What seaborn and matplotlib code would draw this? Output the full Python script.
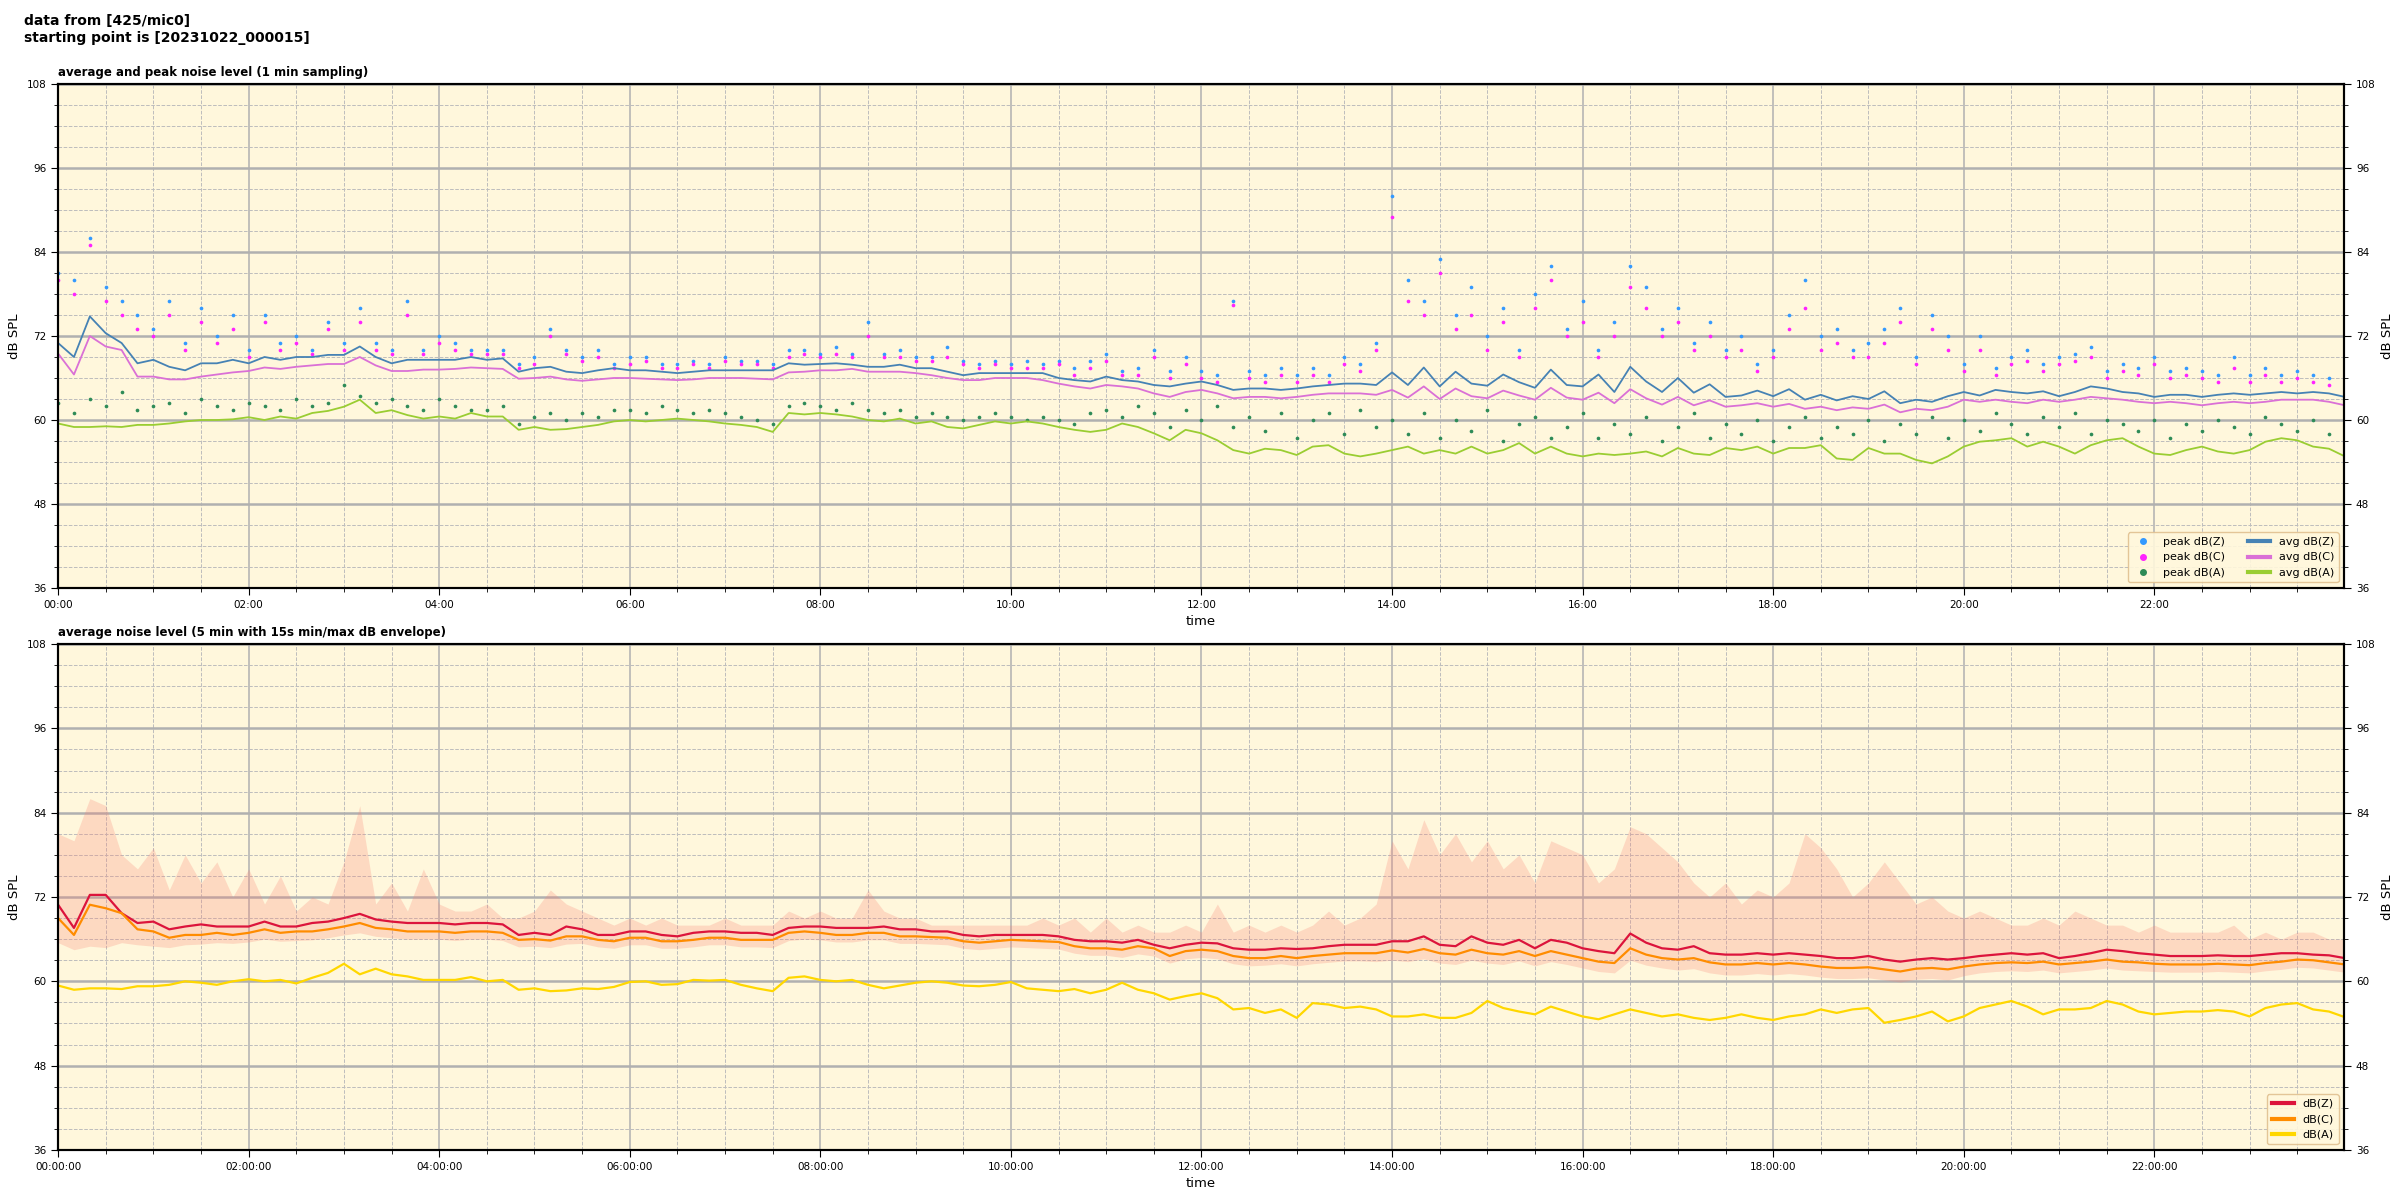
import numpy as np
import pandas as pd
import matplotlib
matplotlib.use("Agg")
import matplotlib.pyplot as plt
import matplotlib.dates as mdates
from matplotlib.lines import Line2D
import seaborn as sns

# 10 min samples, 00:00 .. 24:00 (145 values per series)
times = pd.date_range("2023-10-22 00:00", periods=145, freq="10min")

# ---- top panel: 1 min averages / peaks ----
avg_z = [71.0, 69.0, 74.8, 72.4, 71.0, 68.1,
         68.6, 67.6, 67.1, 68.1, 68.1, 68.6,
         68.1, 69.0, 68.6, 69.0, 69.0, 69.3,
         69.3, 70.5, 69.0, 68.1, 68.6, 68.6,
         68.6, 68.6, 69.0, 68.6, 68.8, 66.9,
         67.4, 67.6, 66.9, 66.7, 67.1, 67.4,
         67.1, 67.1, 66.9, 66.7, 66.9, 67.1,
         67.1, 67.1, 67.1, 67.1, 68.1, 67.9,
         68.0, 68.1, 67.9, 67.6, 67.6, 67.9,
         67.4, 67.4, 66.9, 66.4, 66.7, 66.7,
         66.7, 66.7, 66.7, 66.0, 65.7, 65.5,
         66.2, 65.7, 65.5, 65.0, 64.8, 65.2,
         65.5, 65.0, 64.3, 64.5, 64.5, 64.3,
         64.5, 64.8, 65.0, 65.2, 65.2, 65.0,
         66.8, 65.0, 67.5, 64.8, 66.9, 65.2,
         64.9, 66.5, 65.4, 64.6, 67.2, 65.0,
         64.8, 66.5, 64.0, 67.6, 65.5, 64.0,
         66.0, 63.9, 65.1, 63.3, 63.5, 64.2,
         63.4, 64.4, 62.9, 63.6, 62.8, 63.4,
         63.0, 64.1, 62.4, 62.9, 62.6, 63.4,
         64.0, 63.5, 64.3, 64.0, 63.8, 64.1,
         63.4, 64.0, 64.8, 64.5, 64.0, 63.8,
         63.3, 63.6, 63.6, 63.3, 63.6, 63.8,
         63.6, 63.8, 64.0, 63.8, 64.0, 63.8, 63.3]
avg_c = [69.5, 66.5, 72.0, 70.5, 70.0, 66.2,
         66.2, 65.8, 65.8, 66.2, 66.5, 66.8,
         67.0, 67.5, 67.3, 67.6, 67.8, 68.0,
         68.0, 69.0, 67.8, 67.0, 67.0, 67.2,
         67.2, 67.3, 67.5, 67.4, 67.3, 65.9,
         66.0, 66.2, 65.8, 65.6, 65.8, 66.0,
         66.0, 65.9, 65.8, 65.7, 65.8, 66.0,
         66.0, 66.0, 65.9, 65.8, 66.8, 66.9,
         67.1, 67.1, 67.3, 66.9, 66.9, 66.9,
         66.7, 66.4, 66.0, 65.7, 65.7, 66.0,
         66.0, 66.0, 65.7, 65.2, 64.8, 64.5,
         65.0, 64.8, 64.5, 63.8, 63.3, 64.0,
         64.3, 63.8, 63.1, 63.3, 63.3, 63.1,
         63.3, 63.6, 63.8, 63.8, 63.8, 63.6,
         64.3, 63.2, 64.8, 63.0, 64.5, 63.4,
         63.1, 64.2, 63.5, 62.9, 64.6, 63.2,
         62.9, 63.9, 62.4, 64.4, 63.1, 62.2,
         63.3, 62.1, 62.8, 61.9, 62.1, 62.4,
         61.9, 62.3, 61.6, 61.9, 61.4, 61.8,
         61.6, 62.2, 61.1, 61.6, 61.4, 61.9,
         62.9, 62.6, 62.9, 62.6, 62.4, 62.9,
         62.6, 62.9, 63.3, 63.1, 62.9, 62.6,
         62.4, 62.6, 62.4, 62.1, 62.4, 62.6,
         62.4, 62.6, 62.9, 62.9, 62.9, 62.6, 62.1]
avg_a = [59.5, 59.0, 59.0, 59.1, 59.0, 59.3,
         59.3, 59.5, 59.8, 60.0, 60.0, 60.1,
         60.4, 60.0, 60.5, 60.2, 61.0, 61.3,
         61.9, 62.9, 61.0, 61.4, 60.7, 60.2,
         60.5, 60.2, 61.0, 60.5, 60.5, 58.6,
         59.0, 58.6, 58.7, 59.0, 59.3, 59.8,
         60.0, 59.8, 60.0, 60.2, 60.0, 59.8,
         59.5, 59.3, 59.0, 58.3, 61.0, 60.8,
         61.0, 60.8, 60.5, 60.0, 59.8, 60.2,
         59.5, 59.8, 59.0, 58.8, 59.3, 59.8,
         59.5, 59.8, 59.5, 59.0, 58.6, 58.3,
         58.6, 59.5, 59.0, 58.1, 57.1, 58.6,
         58.1, 57.1, 55.7, 55.2, 55.9, 55.7,
         55.0, 56.2, 56.4, 55.2, 54.8, 55.2,
         55.7, 56.2, 55.2, 55.7, 55.2, 56.2,
         55.2, 55.7, 56.7, 55.2, 56.2, 55.2,
         54.8, 55.2, 55.0, 55.2, 55.5, 54.8,
         56.0, 55.2, 55.0, 56.0, 55.7, 56.2,
         55.2, 56.0, 56.0, 56.4, 54.5, 54.3,
         56.0, 55.2, 55.2, 54.3, 53.8, 54.8,
         56.2, 56.9, 57.1, 57.4, 56.2, 56.9,
         56.2, 55.2, 56.4, 57.1, 57.4, 56.2,
         55.2, 55.0, 55.7, 56.2, 55.5, 55.2,
         55.7, 56.9, 57.4, 57.1, 56.2, 55.9, 54.8]
peak_z = [81, 80, 86, 79, 77, 75,
          73, 77, 71, 76, 72, 75,
          70, 75, 71, 72, 70, 74,
          71, 76, 71, 70, 77, 70,
          72, 71, 70, 70, 70, 68,
          69, 73, 70, 69, 70, 68,
          69, 69, 68, 68, 68.5, 68,
          69, 68.5, 68.5, 68, 70, 70,
          69.5, 70.5, 69.5, 74, 69.5, 70,
          69, 69, 70.5, 68.5, 68, 68.5,
          68, 68.5, 68, 68.5, 67.5, 68.5,
          69.5, 67, 67.5, 70, 67, 69,
          67, 66.5, 77, 67, 66.5, 67.5,
          66.5, 67.5, 66.5, 69, 68, 71,
          92, 80, 77, 83, 75, 79,
          72, 76, 70, 78, 82, 73,
          77, 70, 74, 82, 79, 73,
          76, 71, 74, 70, 72, 68,
          70, 75, 80, 72, 73, 70,
          71, 73, 76, 69, 75, 72,
          68, 72, 67.5, 69, 70, 68,
          69, 69.5, 70.5, 67, 68, 67.5,
          69, 67, 67.5, 67, 66.5, 69,
          66.5, 67.5, 66.5, 67, 66.5, 66, 65.5]
peak_c = [80, 78, 85, 77, 75, 73,
          72, 75, 70, 74, 71, 73,
          69, 74, 70, 71, 69.5, 73,
          70, 74, 70, 69.5, 75, 69.5,
          71, 70, 69.5, 69.5, 69.5, 67.5,
          68, 72, 69.5, 68.5, 69, 67.5,
          68, 68.5, 67.5, 67.5, 68, 67.5,
          68.5, 68, 68, 67.5, 69, 69.5,
          69, 69.5, 69, 72, 69, 69,
          68.5, 68.5, 69, 68, 67.5, 68,
          67.5, 67.5, 67.5, 68, 66.5, 67.5,
          68.5, 66.5, 66.5, 69, 66, 68,
          66, 65.5, 76.5, 66, 65.5, 66.5,
          65.5, 66.5, 65.5, 68, 67, 70,
          89, 77, 75, 81, 73, 75,
          70, 74, 69, 76, 80, 72,
          74, 69, 72, 79, 76, 72,
          74, 70, 72, 69, 70, 67,
          69, 73, 76, 70, 71, 69,
          69, 71, 74, 68, 73, 70,
          67, 70, 66.5, 68, 68.5, 67,
          68, 68.5, 69, 66, 67, 66.5,
          68, 66, 66.5, 66, 65.5, 67.5,
          65.5, 66.5, 65.5, 66, 65.5, 65, 64.5]
peak_a = [62.5, 61, 63, 62, 64, 61.5,
          62, 62.5, 61, 63, 62, 61.5,
          62.5, 62, 61.5, 63, 62, 62.5,
          65, 63.5, 62.5, 63, 62, 61.5,
          63, 62, 61.5, 61.5, 62, 59.5,
          60.5, 61, 60, 61, 60.5, 61.5,
          61.5, 61, 62, 61.5, 61, 61.5,
          61, 60.5, 60, 59.5, 62, 62.5,
          62, 61.5, 62.5, 61.5, 61, 61.5,
          60.5, 61, 60.5, 60, 60.5, 61,
          60.5, 60, 60.5, 60, 59.5, 61,
          61.5, 60.5, 62, 61, 59, 61.5,
          60, 62, 59, 60.5, 58.5, 61,
          57.5, 60, 61, 58, 61.5, 59,
          60, 58, 61, 57.5, 60, 58.5,
          61.5, 57, 59.5, 60.5, 57.5, 59,
          61, 57.5, 59.5, 58, 60.5, 57,
          59, 61, 57.5, 59.5, 58, 60,
          57, 59, 60.5, 57.5, 59, 58,
          60, 57, 59.5, 58, 60.5, 57.5,
          60, 58.5, 61, 59.5, 58, 60.5,
          59, 61, 58, 60, 59.5, 58.5,
          60, 57.5, 59.5, 58.5, 60, 59,
          58, 60.5, 59.5, 58.5, 60, 58, 57]

# ---- bottom panel: 5 min averages and 15 s min/max envelope ----
db_z = [70.9, 67.6, 72.3, 72.3, 69.7, 68.3,
        68.5, 67.4, 67.8, 68.1, 67.8, 67.8,
        67.8, 68.5, 67.8, 67.8, 68.3, 68.5,
        69.0, 69.6, 68.8, 68.5, 68.3, 68.3,
        68.3, 68.1, 68.3, 68.3, 68.1, 66.6,
        66.9, 66.6, 67.8, 67.4, 66.6, 66.6,
        67.1, 67.1, 66.6, 66.4, 66.9, 67.1,
        67.1, 66.9, 66.9, 66.6, 67.6, 67.8,
        67.8, 67.6, 67.6, 67.6, 67.8, 67.4,
        67.4, 67.1, 67.1, 66.6, 66.4, 66.6,
        66.6, 66.6, 66.6, 66.4, 65.9, 65.7,
        65.7, 65.5, 65.9, 65.2, 64.7, 65.2,
        65.5, 65.4, 64.7, 64.5, 64.5, 64.7,
        64.6, 64.7, 65.0, 65.2, 65.2, 65.2,
        65.7, 65.7, 66.4, 65.2, 65.0, 66.4,
        65.5, 65.2, 65.9, 64.7, 65.9, 65.5,
        64.7, 64.3, 64.0, 66.8, 65.5, 64.7,
        64.5, 65.0, 64.0, 63.8, 63.8, 64.0,
        63.8, 64.0, 63.8, 63.6, 63.3, 63.3,
        63.6, 63.1, 62.8, 63.1, 63.3, 63.1,
        63.3, 63.6, 63.8, 64.0, 63.8, 64.0,
        63.3, 63.6, 64.0, 64.5, 64.3, 64.0,
        63.8, 63.6, 63.6, 63.6, 63.7, 63.6,
        63.6, 63.8, 64.0, 64.0, 63.8, 63.7, 63.3]
db_c = [69.0, 66.6, 70.9, 70.4, 69.7, 67.4,
        67.1, 66.2, 66.6, 66.6, 66.9, 66.6,
        66.9, 67.4, 66.9, 67.1, 67.1, 67.4,
        67.8, 68.3, 67.6, 67.4, 67.1, 67.1,
        67.1, 66.9, 67.1, 67.1, 66.9, 65.9,
        66.0, 65.8, 66.4, 66.4, 65.9, 65.7,
        66.2, 66.2, 65.7, 65.7, 65.9, 66.2,
        66.2, 65.9, 65.9, 65.9, 66.9, 67.1,
        66.9, 66.6, 66.6, 66.9, 66.9, 66.4,
        66.4, 66.3, 66.2, 65.7, 65.5, 65.7,
        65.9, 65.8, 65.7, 65.6, 65.0, 64.7,
        64.7, 64.5, 65.0, 64.7, 63.6, 64.3,
        64.5, 64.3, 63.6, 63.3, 63.3, 63.6,
        63.3, 63.6, 63.8, 64.0, 64.0, 64.0,
        64.4, 64.1, 64.6, 64.0, 63.8, 64.5,
        64.0, 63.8, 64.3, 63.6, 64.3, 63.8,
        63.3, 62.8, 62.6, 64.7, 63.8, 63.3,
        63.1, 63.3, 62.7, 62.4, 62.4, 62.6,
        62.4, 62.6, 62.4, 62.1, 61.9, 61.9,
        62.0, 61.7, 61.4, 61.8, 61.9, 61.7,
        62.1, 62.4, 62.6, 62.7, 62.6, 62.8,
        62.4, 62.6, 62.8, 63.1, 62.8, 62.7,
        62.5, 62.4, 62.4, 62.4, 62.5, 62.4,
        62.3, 62.6, 62.8, 63.1, 63.0, 62.7, 62.4]
db_a = [59.4, 58.8, 59.0, 59.0, 58.9, 59.3,
        59.3, 59.5, 60.0, 59.8, 59.5, 60.0,
        60.3, 60.0, 60.2, 59.7, 60.5, 61.2,
        62.5, 61.0, 61.8, 61.0, 60.7, 60.2,
        60.2, 60.2, 60.6, 60.0, 60.2, 58.8,
        59.0, 58.6, 58.7, 59.0, 58.9, 59.2,
        59.9, 60.0, 59.5, 59.6, 60.2, 60.1,
        60.2, 59.5, 59.0, 58.6, 60.5, 60.7,
        60.2, 60.0, 60.2, 59.5, 59.0, 59.4,
        59.8, 60.0, 59.8, 59.4, 59.3, 59.5,
        59.9, 59.0, 58.8, 58.6, 58.9, 58.3,
        58.8, 59.8, 58.8, 58.3, 57.4, 57.9,
        58.3, 57.6, 56.0, 56.2, 55.5, 56.0,
        54.8, 56.9, 56.7, 56.2, 56.4, 56.0,
        55.0, 55.0, 55.3, 54.8, 54.8, 55.5,
        57.2, 56.2, 55.7, 55.3, 56.4, 55.7,
        55.0, 54.6, 55.3, 56.0, 55.5, 55.0,
        55.3, 54.8, 54.5, 54.8, 55.3, 54.8,
        54.5, 55.0, 55.3, 56.0, 55.5, 56.0,
        56.2, 54.1, 54.5, 55.0, 55.7, 54.3,
        55.0, 56.2, 56.7, 57.2, 56.4, 55.3,
        56.0, 56.0, 56.2, 57.2, 56.7, 55.7,
        55.3, 55.5, 55.7, 55.7, 55.9, 55.7,
        55.0, 56.2, 56.7, 56.9, 56.0, 55.7, 54.9]
env_max = [81, 80, 86, 85, 78, 76,
           79, 73, 78, 74, 77, 72,
           76, 71, 75, 70, 72, 71,
           77, 85, 71, 74, 70, 76,
           71, 70, 70, 71, 69, 69,
           70, 73, 71, 70, 69, 68,
           69, 68, 69, 68, 68, 68,
           69, 68, 68, 68, 70, 69,
           70, 69, 69, 73, 70, 69,
           69, 68, 68, 68, 68, 68,
           68, 68, 69, 68, 69, 67,
           69, 67, 68, 67, 67, 68,
           67, 71, 67, 68, 67, 68,
           67, 68, 70, 68, 69, 71,
           80, 76, 83, 78, 81, 77,
           80, 76, 78, 74, 80, 79,
           78, 74, 76, 82, 81, 79,
           77, 74, 72, 74, 71, 73,
           72, 74, 81, 79, 76, 72,
           74, 77, 74, 71, 72, 70,
           69, 70, 69, 68, 68, 69,
           68, 70, 69, 68, 68, 67,
           68, 67, 67, 67, 67, 68,
           66, 67, 66, 67, 67, 66, 66]
env_min = [65.5, 64.5, 65.0, 64.8, 65.5, 65.2,
           65.0, 64.8, 65.2, 65.3, 65.5, 65.4,
           65.6, 66.0, 65.7, 65.8, 65.9, 66.2,
           66.6, 66.9, 66.4, 66.2, 66.0, 66.0,
           66.0, 65.8, 66.0, 66.0, 65.8, 64.9,
           65.0, 64.8, 65.3, 65.4, 64.9, 64.7,
           65.2, 65.2, 64.7, 64.7, 64.9, 65.2,
           65.2, 64.9, 64.9, 64.8, 65.8, 66.0,
           65.9, 65.6, 65.6, 65.9, 65.9, 65.4,
           65.4, 65.3, 65.2, 64.7, 64.5, 64.7,
           64.9, 64.8, 64.7, 64.6, 64.0, 63.7,
           63.7, 63.4, 63.9, 63.6, 62.6, 63.2,
           63.4, 63.2, 62.5, 62.2, 62.3, 62.5,
           62.2, 62.5, 62.7, 62.9, 62.9, 62.8,
           63.0, 62.8, 63.2, 62.6, 62.4, 63.0,
           62.6, 62.4, 62.9, 62.2, 62.8, 62.4,
           61.9, 61.4, 61.2, 63.0, 62.3, 61.9,
           61.6, 61.8, 61.2, 60.9, 60.9, 61.1,
           60.9, 61.1, 60.9, 60.6, 60.4, 60.4,
           60.5, 60.2, 59.9, 60.3, 60.4, 60.2,
           60.8, 61.2, 61.4, 61.5, 61.4, 61.6,
           61.2, 61.4, 61.6, 61.9, 61.6, 61.5,
           61.4, 61.3, 61.3, 61.3, 61.4, 61.3,
           61.2, 61.5, 61.7, 62.0, 61.9, 61.6, 61.3]

y_ticks = [36, 48, 60, 72, 84, 96, 108]

tick_font = ["Liberation Sans Narrow", "DejaVu Sans"]
plt.rcParams["font.family"] = ["DejaVu Sans"]

df = pd.DataFrame({"time": times,
                   "avg_z": avg_z, "avg_c": avg_c, "avg_a": avg_a,
                   "peak_z": peak_z, "peak_c": peak_c, "peak_a": peak_a,
                   "db_z": db_z, "db_c": db_c, "db_a": db_a,
                   "env_max": env_max, "env_min": env_min})

fig = plt.figure(figsize=(24, 12), dpi=100)
ax1 = fig.add_axes([0.0242, 0.51, 0.9525, 0.42])
ax2 = fig.add_axes([0.0242, 0.0417, 0.9525, 0.4216])

fig.text(0.01, 0.988, "data from [425/mic0]\nstarting point is [20231022_000015]",
         fontsize=10, fontweight="bold", va="top", ha="left")

bg = "#fff7dc"


def style_axis(ax, fmt, title):
    ax.set_facecolor(bg)
    ax.set_xlim(pd.Timestamp("2023-10-22 00:00"), pd.Timestamp("2023-10-22 23:59:30"))
    ax.set_ylim(36, 108)
    ax.set_yticks(y_ticks)
    ax.yaxis.set_minor_locator(plt.MultipleLocator(3))
    ax.xaxis.set_major_locator(mdates.HourLocator(byhour=range(0, 24, 2)))
    ax.xaxis.set_minor_locator(mdates.MinuteLocator(byminute=[0, 30]))
    ax.xaxis.set_major_formatter(mdates.DateFormatter(fmt))
    ax.yaxis.grid(True, which="major", color="#b0b0b0", lw=1.8)
    ax.xaxis.grid(True, which="major", color="#b0b0b0", lw=1.1)
    ax.grid(True, which="minor", color="#bdbdbd", ls="--", lw=0.7)
    ax.set_axisbelow(True)
    for sp in ax.spines.values():
        sp.set_linewidth(1.5)
    ax.tick_params(which="both", labelsize=7.5, length=5)
    ax.tick_params(which="minor", length=3)
    for lab in ax.get_xticklabels() + ax.get_yticklabels():
        lab.set_family(tick_font)
    ax.set_xlabel("time", fontsize=9.5)
    ax.set_ylabel("dB SPL", fontsize=9.5)
    ax.set_title(title, loc="left", fontsize=8.5, fontweight="bold")
    tw = ax.twinx()
    tw.set_ylim(36, 108)
    tw.set_yticks(y_ticks)
    tw.yaxis.set_minor_locator(plt.MultipleLocator(3))
    tw.tick_params(which="both", labelsize=7.5, length=5)
    tw.tick_params(which="minor", length=3)
    for lab in tw.get_yticklabels():
        lab.set_family(tick_font)
    tw.set_ylabel("dB SPL", fontsize=9.5)
    for sp in tw.spines.values():
        sp.set_linewidth(1.5)


# top panel
sns.scatterplot(data=df, x="time", y="peak_z", ax=ax1, color="#3399ff", s=7,
                linewidth=0, legend=False)
sns.scatterplot(data=df, x="time", y="peak_c", ax=ax1, color="#ff22ff", s=7,
                linewidth=0, legend=False)
sns.scatterplot(data=df, x="time", y="peak_a", ax=ax1, color="#2e8b57", s=7,
                linewidth=0, legend=False)
sns.lineplot(data=df, x="time", y="avg_z", ax=ax1, color="steelblue", lw=1.3)
sns.lineplot(data=df, x="time", y="avg_c", ax=ax1, color="orchid", lw=1.3)
sns.lineplot(data=df, x="time", y="avg_a", ax=ax1, color="yellowgreen", lw=1.3)
style_axis(ax1, "%H:%M", "average and peak noise level (1 min sampling)")

h1 = [Line2D([], [], ls="", marker="o", ms=4, color="#3399ff"),
      Line2D([], [], ls="", marker="o", ms=4, color="#ff22ff"),
      Line2D([], [], ls="", marker="o", ms=4, color="#2e8b57"),
      Line2D([], [], color="steelblue", lw=3),
      Line2D([], [], color="orchid", lw=3),
      Line2D([], [], color="yellowgreen", lw=3)]
l1 = ["peak dB(Z)", "peak dB(C)", "peak dB(A)", "avg dB(Z)", "avg dB(C)", "avg dB(A)"]
leg = ax1.legend(h1, l1, ncol=2, loc="lower right", fontsize=8,
                 facecolor=bg, edgecolor="#e0c090", framealpha=0.9)

# bottom panel
ax2.fill_between(df["time"], df["env_min"], df["env_max"], color="salmon",
                 alpha=0.25, lw=0)
sns.lineplot(data=df, x="time", y="db_z", ax=ax2, color="crimson", lw=1.6, label="dB(Z)")
sns.lineplot(data=df, x="time", y="db_c", ax=ax2, color="darkorange", lw=1.6, label="dB(C)")
sns.lineplot(data=df, x="time", y="db_a", ax=ax2, color="gold", lw=1.6, label="dB(A)")
style_axis(ax2, "%H:%M:%S", "average noise level (5 min with 15s min/max dB envelope)")
h2 = [Line2D([], [], color=c, lw=3) for c in ["crimson", "darkorange", "gold"]]
ax2.legend(h2, ["dB(Z)", "dB(C)", "dB(A)"], loc="lower right", fontsize=8,
           facecolor=bg, edgecolor="#e0c090", framealpha=0.9)

fig.savefig("out.png", dpi=100)
